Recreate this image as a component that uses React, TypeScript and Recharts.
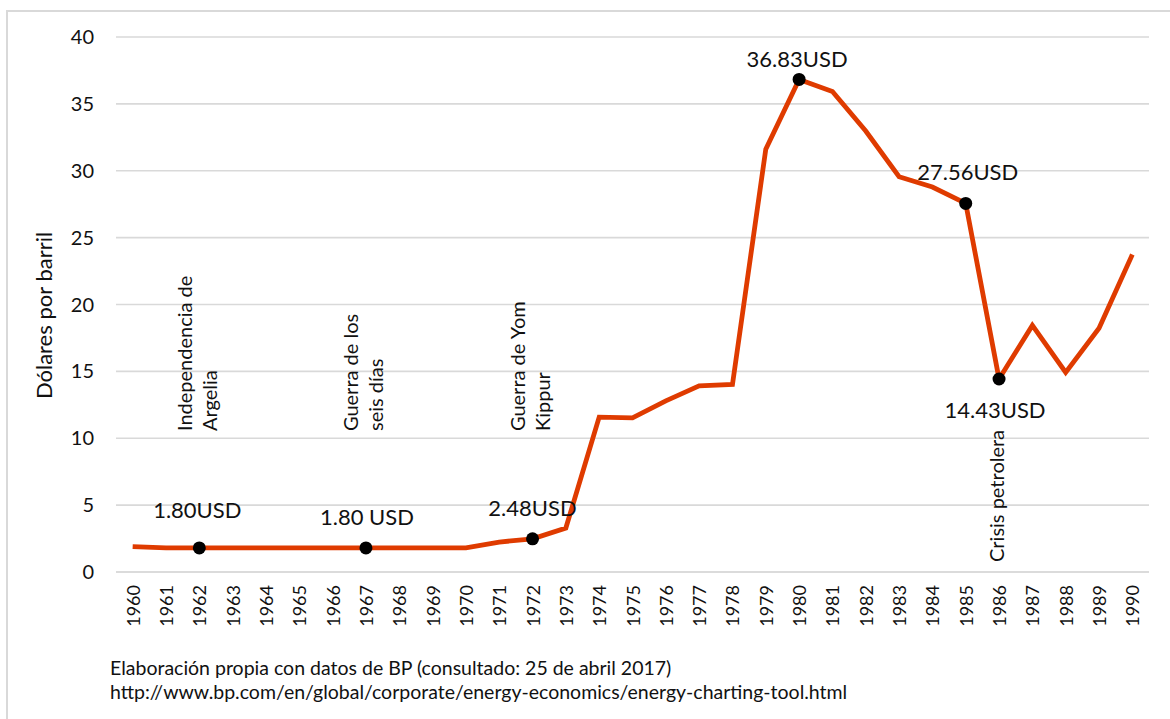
import React from 'react';
import { LineChart, Line, XAxis, YAxis, CartesianGrid, LabelList, ReferenceDot } from 'recharts';

const years = [
  '1960', '1961', '1962', '1963', '1964', '1965', '1966', '1967', '1968', '1969',
  '1970', '1971', '1972', '1973', '1974', '1975', '1976', '1977', '1978', '1979',
  '1980', '1981', '1982', '1983', '1984', '1985', '1986', '1987', '1988', '1989', '1990',
];
const prices = [
  1.9, 1.8, 1.8, 1.8, 1.8, 1.8, 1.8, 1.8, 1.8, 1.8,
  1.8, 2.24, 2.48, 3.29, 11.58, 11.53, 12.8, 13.92, 14.02, 31.61,
  36.83, 35.93, 32.97, 29.55, 28.78, 27.56, 14.43, 18.44, 14.92, 18.23, 23.73,
];
const yTicks = [0, 5, 10, 15, 20, 25, 30, 35, 40];

const highlightYears = ['1962', '1967', '1972', '1980', '1985', '1986'];
const highlightLabels = ['1.80USD', '1.80 USD', '2.48USD', '36.83USD', '27.56USD', '14.43USD'];

const eventYears = ['1962', '1967', '1972', '1986'];
const eventLines = [
  ['Independencia de', 'Argelia'],
  ['Guerra de los', 'seis días'],
  ['Guerra de Yom', 'Kippur'],
  ['Crisis petrolera'],
];
const eventBaseValues = [10.54, 10.54, 10.54, 0.75];

const yAxisTitle = 'Dólares por barril';
const footerLines = [
  'Elaboración propia con datos de BP (consultado: 25 de abril 2017)',
  'http://www.bp.com/en/global/corporate/energy-economics/energy-charting-tool.html',
];

const data = years.map((year, i) => ({ year, price: prices[i] }));

const FONT = 'Lato, "Open Sans", sans-serif';
const TEXT = '#111';
const LINE_COLOR = '#DF3B00';
// label placement (px offsets relative to the point), style only
const labelDy = [-38, -31, -31, -21, -32, 31];
const labelDx = [-2, 1, 0, -2, 2, -4];

const XTick = (props: any) => {
  const { x, y, payload } = props;
  return (
    <text
      x={x}
      y={y}
      transform={`rotate(-90 ${x} ${y})`}
      textAnchor="end"
      dominantBaseline="central"
      fontFamily={FONT}
      fontSize={18}
      fill={TEXT}
    >
      {payload.value}
    </text>
  );
};

const renderDot = (props: any) => {
  const { cx, cy, index, payload } = props;
  if (highlightYears.indexOf(payload.year) >= 0) {
    return <circle key={`d${index}`} cx={cx} cy={cy} r={6.5} fill="#000" />;
  }
  return <g key={`d${index}`} />;
};

const renderPointLabel = (props: any) => {
  const { x, y, index } = props;
  const k = highlightYears.indexOf(years[index]);
  if (k < 0) return null;
  return (
    <text
      key={`l${index}`}
      x={x + labelDx[k]}
      y={y + labelDy[k]}
      textAnchor="middle"
      dominantBaseline="central"
      fontFamily={FONT}
      fontSize={22}
      fill={TEXT}
    >
      {highlightLabels[k]}
    </text>
  );
};

const makeEventLabel = (lines: string[]) => (props: any) => {
  const vb = props.viewBox || {};
  const cx = (vb.x || 0) + (vb.width || 0) / 2 - 3;
  const cy = (vb.y || 0) + (vb.height || 0) / 2;
  const gap = 25;
  const start = -((lines.length - 1) * gap) / 2;
  return (
    <text
      transform={`rotate(-90 ${cx} ${cy})`}
      x={cx}
      y={cy}
      textAnchor="start"
      dominantBaseline="central"
      fontFamily={FONT}
      fontSize={20}
      fill={TEXT}
    >
      {lines.map((ln, i) => (
        <tspan key={i} x={cx} y={cy + start + i * gap}>
          {ln}
        </tspan>
      ))}
    </text>
  );
};

const YTitle = (props: any) => {
  const vb = props.viewBox || {};
  const x = (vb.x || 0) - 13;
  const y = (vb.y || 0) + (vb.height || 0) / 2 + 11;
  return (
    <text
      x={x}
      y={y}
      transform={`rotate(-90 ${x} ${y})`}
      textAnchor="middle"
      dominantBaseline="central"
      fontFamily={FONT}
      fontSize={22}
      fill={TEXT}
    >
      {yAxisTitle}
    </text>
  );
};

export default function App() {
  return (
    <div
      style={{
        position: 'absolute',
        left: 0,
        top: 0,
        width: 1170,
        height: 719,
        overflow: 'hidden',
        background: '#fff',
      }}
    >
      <div
        style={{
          position: 'absolute',
          left: 6,
          top: 10,
          width: 1300,
          height: 900,
          border: '2px solid #d9d9d9',
          boxSizing: 'border-box',
        }}
      />
      <div style={{ position: 'absolute', left: 0, top: 0 }}>
        <LineChart
          width={1170}
          height={719}
          data={data}
          margin={{ top: 37, right: 21, bottom: 0, left: 56 }}
        >
          <CartesianGrid vertical={false} stroke="#d9d9d9" strokeWidth={1.6} />
          <XAxis
            dataKey="year"
            interval={0}
            height={147}
            axisLine={{ stroke: '#d9d9d9', strokeWidth: 1.6 }}
            tickLine={false}
            tickSize={0}
            tickMargin={13}
            padding={{ left: 16.67, right: 16.67 }}
            tick={<XTick />}
          />
          <YAxis
            width={60}
            domain={[0, 40]}
            ticks={yTicks}
            axisLine={false}
            tickLine={false}
            tickSize={0}
            tickMargin={22}
            tick={{ fontFamily: FONT, fontSize: 20, fill: TEXT }}
            label={<YTitle />}
          />
          <Line
            type="linear"
            dataKey="price"
            stroke={LINE_COLOR}
            strokeWidth={4.8}
            dot={renderDot}
            activeDot={false}
            isAnimationActive={false}
          >
            <LabelList dataKey="price" content={renderPointLabel} />
          </Line>
          {eventYears.map((yr, i) => (
            <ReferenceDot
              key={yr}
              x={yr}
              y={eventBaseValues[i]}
              r={0}
              fill="none"
              stroke="none"
              label={makeEventLabel(eventLines[i])}
            />
          ))}
        </LineChart>
      </div>
      <div
        style={{
          position: 'absolute',
          left: 110,
          top: 656,
          fontFamily: FONT,
          fontSize: 19.5,
          lineHeight: '24px',
          color: TEXT,
          whiteSpace: 'nowrap',
        }}
      >
        {footerLines.map((ln, i) => (
          <div key={i}>{ln}</div>
        ))}
      </div>
    </div>
  );
}
